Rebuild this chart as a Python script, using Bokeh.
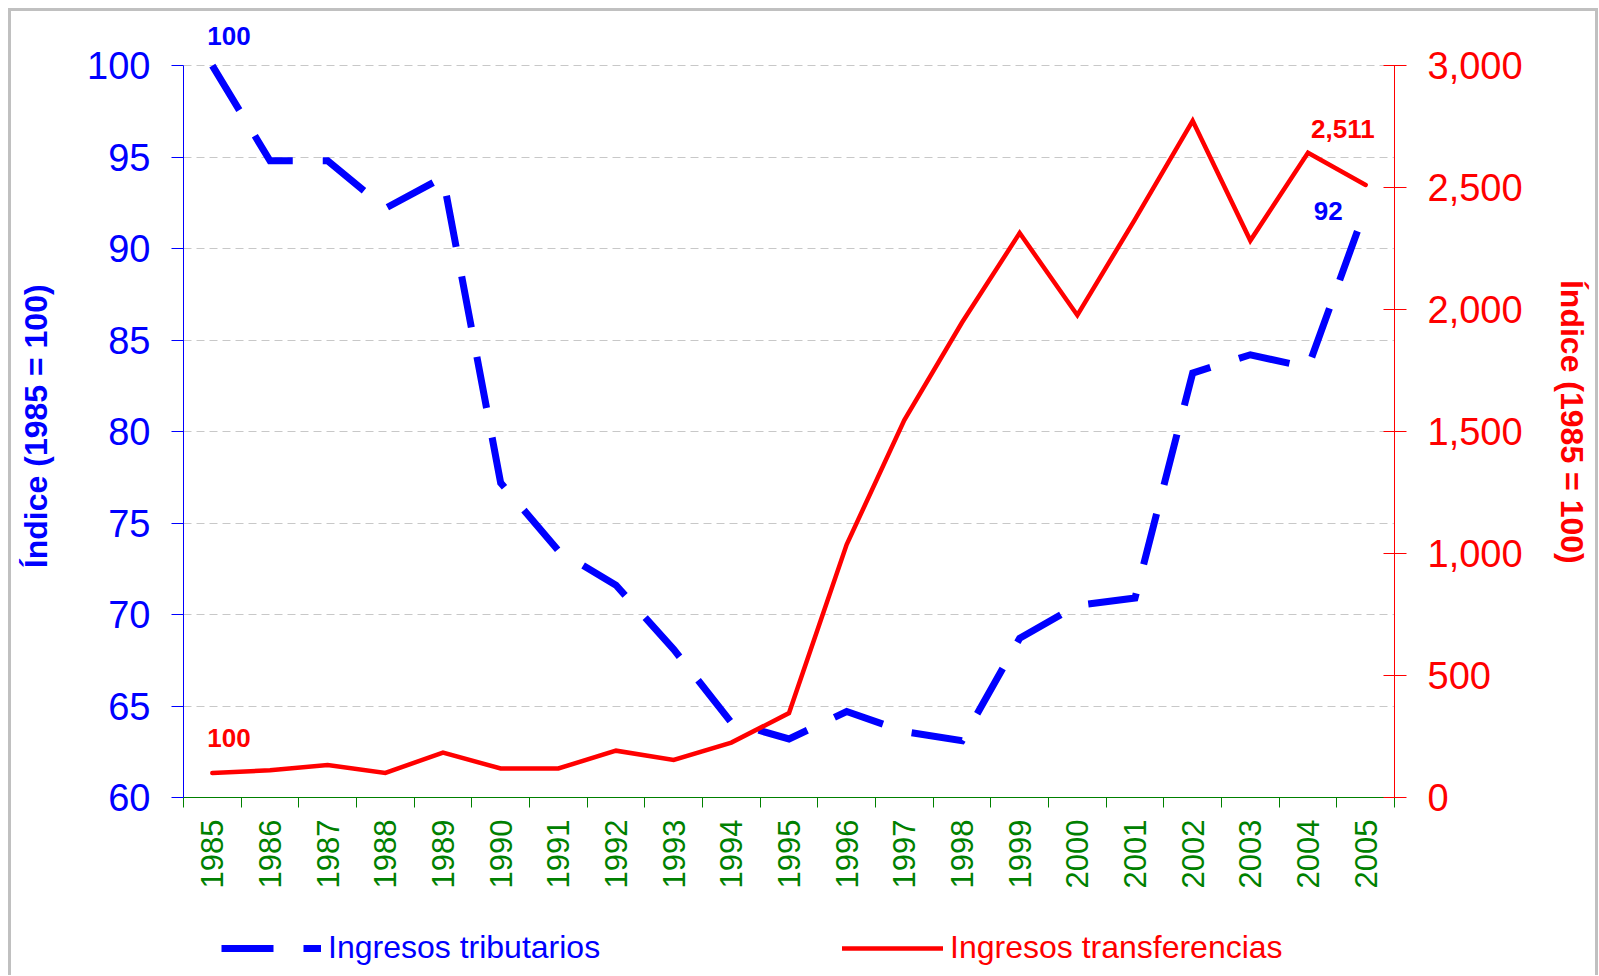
import math
from bokeh.plotting import figure
from bokeh.layouts import column
from bokeh.models import (Range1d, LinearAxis, FixedTicker, NumeralTickFormatter,
                          Legend, LegendItem, Label)
from bokeh.embed import file_html
from bokeh.resources import INLINE

years = list(range(1985, 2006))
tributarios = [100, 94.8, 94.8, 92.2, 93.9, 77.2, 73.5, 71.6, 68.1, 64.1, 63.2,
               64.7, 63.6, 63.1, 68.7, 70.5, 70.9, 83.2, 84.2, 83.5, 92.2]
transferencias = [100, 112, 133, 101, 184, 119, 119, 192, 154, 225, 346,
                  1037, 1547, 1947, 2314, 1977, 2370, 2774, 2283, 2643, 2511]
left_ticks = [60, 65, 70, 75, 80, 85, 90, 95, 100]
right_ticks = [0, 500, 1000, 1500, 2000, 2500, 3000]
axis_title = "Índice (1985 = 100)"
name_trib = "Ingresos tributarios"
name_transf = "Ingresos transferencias"

BLUE = "#0000FF"
RED = "#FF0000"
GREEN = "#008000"
FONT = "Liberation Sans"
BORDER = "3px solid #c0c0c0"
NBSP = "\u00a0"

# the plotting area reaches HEAD px above the top tick so that the data labels
# placed above the first point stay visible; the axes stop at the top tick
AXIS_PX = 729
HEAD = 46
left_lo, left_hi = left_ticks[0], left_ticks[-1]
right_lo, right_hi = right_ticks[0], right_ticks[-1]
left_top = left_hi + HEAD * (left_hi - left_lo) / AXIS_PX
right_top = right_hi + HEAD * (right_hi - right_lo) / AXIS_PX

p = figure(width=1590, height=897, output_backend="svg", toolbar_location=None,
           x_range=Range1d(years[0] - 0.5, years[-1] + 0.5),
           y_range=Range1d(left_lo, left_top),
           min_border_left=172, min_border_right=207,
           min_border_top=54 - HEAD, min_border_bottom=111,
           background_fill_color="white", border_fill_color="white",
           styles={"border-left": BORDER, "border-top": BORDER, "border-right": BORDER,
                   "margin-left": "8px", "margin-top": "8px"})
p.outline_line_color = None
p.extra_y_ranges = {"r": Range1d(right_lo, right_top)}

# x axis
xa = p.xaxis[0]
xa.ticker = FixedTicker(ticks=years, minor_ticks=[y - 0.5 for y in years] + [years[-1] + 0.5])
xa.axis_line_color = GREEN
xa.major_tick_out = 0
xa.major_tick_in = 0
xa.minor_tick_out = 10
xa.minor_tick_in = 0
xa.minor_tick_line_color = GREEN
xa.major_label_orientation = math.pi / 2
xa.major_label_standoff = 12
xa.major_label_text_font = FONT
xa.major_label_text_font_size = "31px"
xa.major_label_text_color = GREEN

# left axis (title padded so it stays centred on the 60-100 span)
ya = p.yaxis[0]
ya.ticker = FixedTicker(ticks=left_ticks)
ya.bounds = (left_lo, left_hi)
ya.axis_line_color = BLUE
ya.major_tick_line_color = BLUE
ya.major_tick_out = 12
ya.major_tick_in = 0
ya.minor_tick_line_color = None
ya.major_label_standoff = 21
ya.major_label_text_font = FONT
ya.major_label_text_font_size = "38px"
ya.major_label_text_color = BLUE
ya.axis_label = axis_title + NBSP * 4
ya.axis_label_text_font = FONT
ya.axis_label_text_font_style = "bold"
ya.axis_label_text_font_size = "32px"
ya.axis_label_text_color = BLUE
ya.axis_label_standoff = 30

# right axis
ra = LinearAxis(y_range_name="r", ticker=FixedTicker(ticks=right_ticks),
                formatter=NumeralTickFormatter(format="0,0"),
                bounds=(right_lo, right_hi))
ra.axis_line_color = RED
ra.major_tick_line_color = RED
ra.major_tick_out = 12
ra.major_tick_in = 11
ra.minor_tick_line_color = None
ra.major_label_standoff = 21
ra.major_label_text_font = FONT
ra.major_label_text_font_size = "38px"
ra.major_label_text_color = RED
ra.axis_label = NBSP * 3 + axis_title
ra.axis_label_text_font = FONT
ra.axis_label_text_font_style = "bold"
ra.axis_label_text_font_size = "32px"
ra.axis_label_text_color = RED
ra.axis_label_standoff = 28
p.add_layout(ra, "right")

# grid
p.xgrid.visible = False
p.ygrid.grid_line_color = "#c8c8c8"
p.ygrid.grid_line_dash = "8 5"
p.ygrid.grid_line_width = 1

# series
trib_style = dict(line_color=BLUE, line_width=7, line_dash="52 30",
                  line_join="miter", line_cap="butt")
transf_style = dict(line_color=RED, line_width=4.5, line_join="miter", line_cap="round")
p.line(years, tributarios, **trib_style)
p.line(years, transferencias, y_range_name="r", **transf_style)

# data labels
lab_kw = dict(text_font=FONT, text_font_size="26px", text_font_style="bold",
              text_baseline="alphabetic")
p.add_layout(Label(x=years[0], y=tributarios[0], text=f"{tributarios[0]:.0f}",
                   x_offset=-5, y_offset=30, text_align="left", text_color=BLUE, **lab_kw))
p.add_layout(Label(x=years[-1], y=tributarios[-1], text=f"{tributarios[-1]:.0f}",
                   x_offset=-23, y_offset=-3, text_align="right", text_color=BLUE, **lab_kw))
p.add_layout(Label(x=years[0], y=transferencias[0], y_range_name="r",
                   text=f"{transferencias[0]:,.0f}",
                   x_offset=-5, y_offset=35, text_align="left", text_color=RED, **lab_kw))
p.add_layout(Label(x=years[-1], y=transferencias[-1], y_range_name="r",
                   text=f"{transferencias[-1]:,.0f}",
                   x_offset=9, y_offset=56, text_align="right", text_color=RED, **lab_kw))

# legend strip (same chart box, below the axis); its series sit outside its
# view range, so only the legend keys show
q = figure(width=1590, height=70, output_backend="svg", toolbar_location=None,
           x_axis_type=None, y_axis_type=None, min_border=0,
           x_range=Range1d(0, 1), y_range=Range1d(0, 1),
           background_fill_color="white", border_fill_color="white",
           styles={"border-left": BORDER, "border-right": BORDER, "margin-left": "8px"})
q.outline_line_color = None
q.grid.visible = False
k_trib = q.line(years, tributarios, **trib_style)
k_transf = q.line(years, transferencias, **transf_style)

def make_legend(label, renderer, color, vx, gw):
    return Legend(items=[LegendItem(label=label, renderers=[renderer])],
                  location=(vx, 9), orientation="horizontal",
                  glyph_width=gw, glyph_height=20, label_standoff=7,
                  padding=0, margin=0, border_line_color=None,
                  background_fill_alpha=0,
                  label_text_font=FONT, label_text_font_size="32px",
                  label_text_color=color)

q.add_layout(make_legend(name_trib, k_trib, BLUE, 38, 100))
q.add_layout(make_legend(name_transf, k_transf, RED, 659, 101))

layout = column(p, q, spacing=0)
open("out.html", "w").write(file_html(layout, INLINE))
